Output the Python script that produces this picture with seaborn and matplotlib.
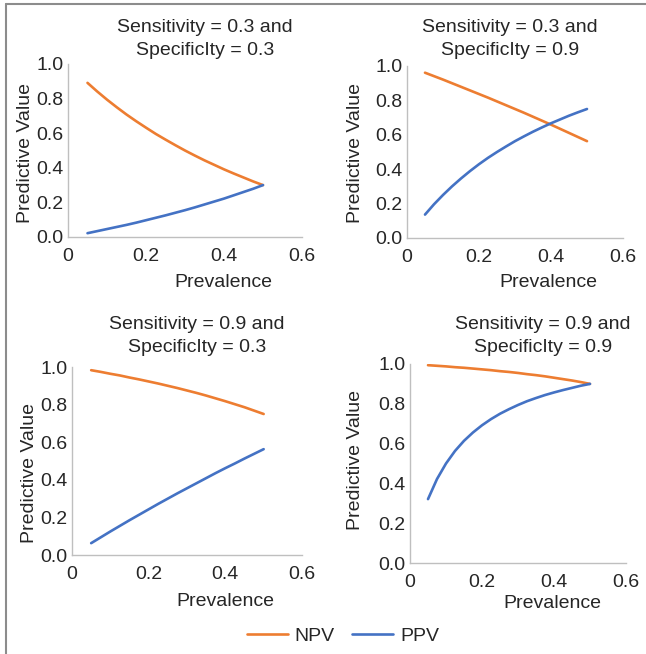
import matplotlib
matplotlib.use("Agg")
import matplotlib.pyplot as plt
import seaborn as sns
import pandas as pd
from matplotlib.lines import Line2D

sns.set_theme(style="white")
plt.rcParams['font.family'] = ['Liberation Sans', 'DejaVu Sans']

prevalence = [0.05, 0.075, 0.10, 0.125, 0.15, 0.175, 0.20, 0.225, 0.25, 0.275,
              0.30, 0.325, 0.35, 0.375, 0.40, 0.425, 0.45, 0.475, 0.50]

titles = ["Sensitivity = 0.3 and\nSpecificIty = 0.3",
          "Sensitivity = 0.3 and\nSpecificIty = 0.9",
          "Sensitivity = 0.9 and\nSpecificIty = 0.3",
          "Sensitivity = 0.9 and\nSpecificIty = 0.9"]

npv_a = [0.891, 0.841, 0.794, 0.750, 0.708, 0.669, 0.632, 0.596, 0.563, 0.531,
         0.500, 0.471, 0.443, 0.417, 0.391, 0.367, 0.344, 0.321, 0.300]
ppv_a = [0.022, 0.034, 0.046, 0.058, 0.070, 0.083, 0.097, 0.111, 0.125, 0.140,
         0.155, 0.171, 0.188, 0.205, 0.222, 0.241, 0.260, 0.279, 0.300]
npv_b = [0.961, 0.941, 0.921, 0.900, 0.879, 0.858, 0.837, 0.816, 0.794, 0.772,
         0.750, 0.728, 0.705, 0.682, 0.659, 0.635, 0.611, 0.587, 0.563]
ppv_b = [0.136, 0.196, 0.250, 0.300, 0.346, 0.389, 0.429, 0.466, 0.500, 0.532,
         0.563, 0.591, 0.618, 0.643, 0.667, 0.689, 0.711, 0.731, 0.750]
npv_c = [0.983, 0.974, 0.964, 0.955, 0.944, 0.934, 0.923, 0.912, 0.900, 0.888,
         0.875, 0.862, 0.848, 0.833, 0.818, 0.802, 0.786, 0.768, 0.750]
ppv_c = [0.063, 0.094, 0.125, 0.155, 0.185, 0.214, 0.243, 0.272, 0.300, 0.328,
         0.355, 0.382, 0.409, 0.436, 0.462, 0.487, 0.513, 0.538, 0.563]
npv_d = [0.994, 0.991, 0.988, 0.984, 0.981, 0.977, 0.973, 0.969, 0.964, 0.960,
         0.955, 0.949, 0.944, 0.938, 0.931, 0.924, 0.917, 0.909, 0.900]
ppv_d = [0.321, 0.422, 0.500, 0.563, 0.614, 0.656, 0.692, 0.723, 0.750, 0.773,
         0.794, 0.813, 0.829, 0.844, 0.857, 0.869, 0.880, 0.891, 0.900]

x_ticks = [0, 0.2, 0.4, 0.6]
x_tick_labels = ["0", "0.2", "0.4", "0.6"]
y_ticks = [0.0, 0.2, 0.4, 0.6, 0.8, 1.0]
y_tick_labels = ["0.0", "0.2", "0.4", "0.6", "0.8", "1.0"]

series = [(npv_a, ppv_a), (npv_b, ppv_b), (npv_c, ppv_c), (npv_d, ppv_d)]

NPV_C = "#ED7D31"
PPV_C = "#4472C4"
SPINE = "#BFBFBF"
TXT = "#262626"
FS = 14

W, H = 646, 654
fig = plt.figure(figsize=(W / 100, H / 100), dpi=100)

def fx(px):
    return px / W

def fy(py):
    return 1 - py / H

# axes boxes in pixels: left, top, right, bottom
boxes = [(68, 64, 302, 237), (407, 66, 623, 238), (72, 367, 302, 555), (410, 364, 626, 563)]
title_pos = [(205, 39), (510, 39), (197, 336), (543, 336)]
xlabel_pos = [(223, 282), (548, 282), (225, 602), (552, 604)]
ylabel_pos = [(26, 153), (356, 153), (29, 473), (356, 460)]

for i, (npv, ppv) in enumerate(series):
    l, t, r, b = boxes[i]
    ax = fig.add_axes([fx(l), fy(b), fx(r - l), (b - t) / H])
    df = pd.DataFrame({"Prevalence": prevalence * 2,
                       "Value": npv + ppv,
                       "Type": ["NPV"] * len(prevalence) + ["PPV"] * len(prevalence)})
    sns.lineplot(data=df, x="Prevalence", y="Value", hue="Type",
                 palette={"NPV": NPV_C, "PPV": PPV_C}, linewidth=1.9,
                 ax=ax, legend=False, sort=True)
    ax.set_xlim(0, 0.6)
    ax.set_ylim(0, 1.0)
    ax.set_xticks(x_ticks)
    ax.set_xticklabels(x_tick_labels)
    ax.set_yticks(y_ticks)
    ax.set_yticklabels(y_tick_labels)
    ax.tick_params(axis="both", length=0, labelsize=FS, colors=TXT)
    ax.tick_params(axis="x", pad=8)
    ax.tick_params(axis="y", pad=3)
    for s in ["top", "right"]:
        ax.spines[s].set_visible(False)
    for s in ["left", "bottom"]:
        ax.spines[s].set_color(SPINE)
        ax.spines[s].set_linewidth(1.0)
    ax.set_facecolor("white")
    ax.set_xlabel("Prevalence", fontsize=FS, color=TXT)
    ax.xaxis.set_label_coords(fx(xlabel_pos[i][0]), fy(xlabel_pos[i][1]), transform=fig.transFigure)
    ax.xaxis.label.set_va("center")
    ax.set_ylabel("Predictive Value", fontsize=FS, color=TXT)
    ax.yaxis.set_label_coords(fx(ylabel_pos[i][0]), fy(ylabel_pos[i][1]), transform=fig.transFigure)
    ax.yaxis.label.set_va("center")
    fig.text(fx(title_pos[i][0]), fy(title_pos[i][1]), titles[i], ha="center", va="center",
             fontsize=FS, color=TXT, linespacing=1.42)

handles = [Line2D([], [], color=NPV_C, lw=1.9), Line2D([], [], color=PPV_C, lw=1.9)]
fig.legend(handles, ["NPV", "PPV"], loc="center", bbox_to_anchor=(fx(343), fy(636)),
           ncol=2, frameon=False, fontsize=FS, handlelength=2.1, columnspacing=0.9,
           handletextpad=0.35, labelcolor=TXT)

# figure border (top and left)
fig.add_artist(Line2D([fx(6), 1], [fy(4), fy(4)], color="#8C8C8C", lw=1.5, transform=fig.transFigure))
fig.add_artist(Line2D([fx(6), fx(6)], [fy(4), 0], color="#8C8C8C", lw=1.5, transform=fig.transFigure))

fig.savefig("out.png", dpi=100)
